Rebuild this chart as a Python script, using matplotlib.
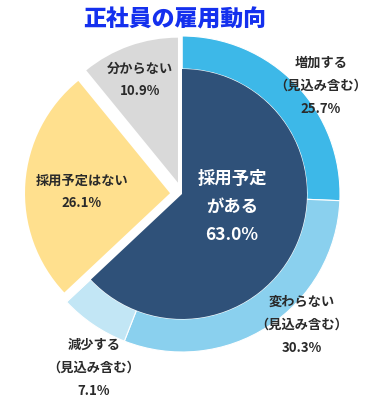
import matplotlib
matplotlib.use("Agg")
import matplotlib.pyplot as plt

plt.rcParams["font.family"] = ["Noto Sans CJK JP", "DejaVu Sans"]

# 正社員の雇用動向 (%)
main_labels = ["採用予定\nがある", "採用予定はない", "分からない"]
main_values = [63.0, 26.1, 10.9]
sub_labels = ["増加する", "変わらない", "減少する"]
sub_values = [25.7, 30.3, 7.1]
sub_note = "（見込み含む）"

W, H = 368, 406
cx, cy = 182, H - 195

fig = plt.figure(figsize=(W / 100, H / 100), dpi=100)
ax = fig.add_axes([0, 0, 1, 1])

edge = dict(edgecolor="white", linewidth=0.8)

# outer ring split of the "yes" slice
rest = sum(main_values[1:])
ax.pie(sub_values + [rest], radius=158, center=(cx, cy), startangle=90,
       counterclock=False, colors=["#3db8e8", "#8ad0ee", "#c2e6f5", "none"],
       wedgeprops=dict(width=33, **edge))
# dark inner slice
ax.pie(main_values, radius=125, center=(cx, cy), startangle=90,
       counterclock=False, colors=["#2f5179", "none", "none"],
       wedgeprops=dict(edgecolor="none"))
# exploded "no" / "don't know" slices (explode is in data units here)
ax.pie(main_values, radius=145, center=(cx, cy), startangle=90,
       counterclock=False, explode=[0, 12, 12],
       colors=["none", "#ffe08e", "#d9d9d9"], wedgeprops=dict(edgecolor="none"))

ax.set_xlim(0, W)
ax.set_ylim(0, H)
ax.set_aspect("equal")
ax.axis("off")

ax.text(175, H - 20, "正社員の雇用動向", ha="center", va="center",
        fontsize=16.5, fontweight="heavy", color="#1430ee")

txt = dict(ha="center", va="center", fontsize=9.5, fontweight="bold", color="#2a2a2a")
ax.text(232, H - 207, f"{main_labels[0]}\n{main_values[0]:.1f}%", ha="center",
        va="center", fontsize=12.5, fontweight="bold", color="white", linespacing=1.7)
ax.text(82, H - 192, f"{main_labels[1]}\n{main_values[1]:.1f}%", linespacing=1.8, **txt)
ax.text(140, H - 80, f"{main_labels[2]}\n{main_values[2]:.1f}%", linespacing=1.8, **txt)

sub_pos = [(321, 86), (302, 325), (94, 368)]
for lab, val, (x, y) in zip(sub_labels, sub_values, sub_pos):
    ax.text(x, H - y, f"{lab}\n{sub_note}\n{val:.1f}%", linespacing=1.8, **txt)

fig.savefig("out.png", dpi=100)
